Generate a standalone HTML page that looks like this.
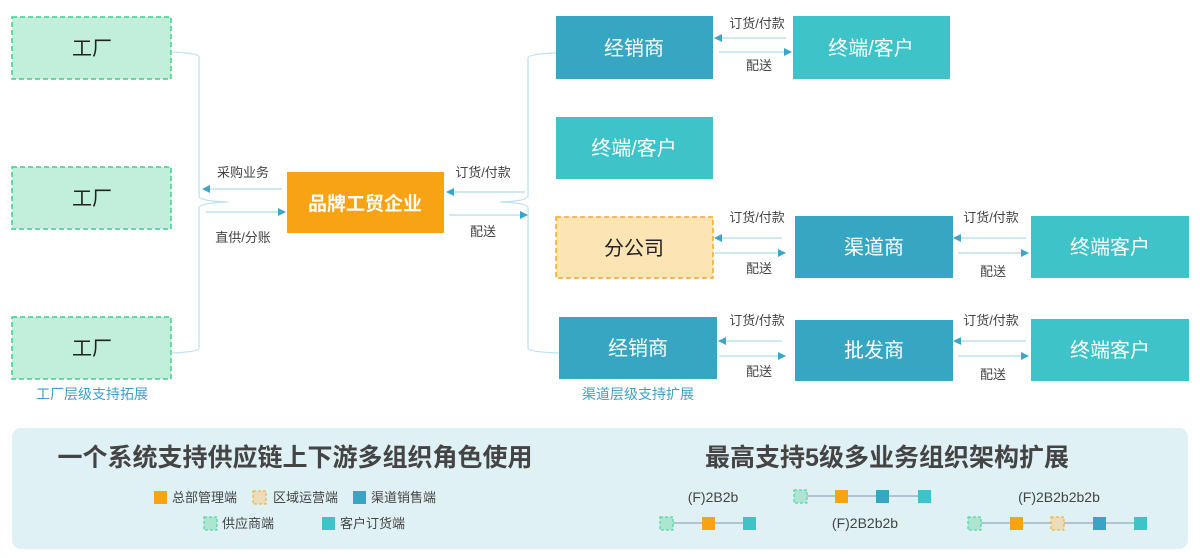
<!DOCTYPE html>
<html><head><meta charset="utf-8"><style>
html,body{margin:0;padding:0;background:#fff;}
svg{display:block;font-family:"Liberation Sans","Noto Sans CJK SC",sans-serif;}
</style></head><body>
<svg width="1200" height="558" viewBox="0 0 1200 558" xmlns="http://www.w3.org/2000/svg">
<defs>
<marker id="ah" markerWidth="8" markerHeight="8" refX="7" refY="4" orient="auto" markerUnits="userSpaceOnUse">
<path d="M0,0 L8,4 L0,8 Z" fill="#3aa6c8"/></marker>
</defs>
<!-- factories -->
<g fill="#c2efdb" stroke="#3ccf8e" stroke-width="1.5" stroke-dasharray="5,3">
<rect x="12" y="17" width="159" height="62"/>
<rect x="12" y="167" width="159" height="62"/>
<rect x="12" y="317" width="159" height="62"/>
</g>
<g font-size="20" fill="#222" text-anchor="middle">
<text x="92" y="55">工厂</text><text x="92" y="205">工厂</text><text x="92" y="355">工厂</text>
</g>
<text x="92" y="399" font-size="14" fill="#3ea0c8" text-anchor="middle">工厂层级支持拓展</text>
<!-- left brace -->
<g fill="none" stroke="#bfe2ee" stroke-width="1.3">
<path d="M171,52 Q199,53 199,57 L199,196 Q199,201 228,202 Q199,203 199,208 L199,348 Q199,352 171,353"/>
<path d="M556,53 Q528,54 528,58 L528,196 Q528,201 500,202 Q528,203 528,208 L528,348 Q528,352 559,353"/>
</g>
<!-- brand -->
<rect x="287" y="172" width="157" height="61" fill="#f7a313"/>
<text x="365" y="210" font-size="19" font-weight="bold" fill="#fff" text-anchor="middle">品牌工贸企业</text>
<!-- arrows -->
<g stroke="#bfe2ee" stroke-width="1.5" marker-end="url(#ah)">
<line x1="282" y1="189" x2="203" y2="189"/>
<line x1="206" y1="212" x2="285" y2="212"/>
<line x1="525" y1="192" x2="447" y2="192"/>
<line x1="449" y1="215" x2="527" y2="215"/>
<line x1="786" y1="38" x2="715" y2="38"/>
<line x1="719" y1="52" x2="791" y2="52"/>
<line x1="782" y1="238" x2="715" y2="238"/>
<line x1="715" y1="253" x2="785" y2="253"/>
<line x1="1026" y1="238" x2="954" y2="238"/>
<line x1="958" y1="253" x2="1028" y2="253"/>
<line x1="782" y1="341" x2="719" y2="341"/>
<line x1="719" y1="356" x2="785" y2="356"/>
<line x1="1026" y1="341" x2="954" y2="341"/>
<line x1="958" y1="356" x2="1028" y2="356"/>
</g>
<g font-size="13" fill="#444" text-anchor="middle">
<text x="243" y="177">采购业务</text><text x="243" y="242">直供/分账</text>
<text x="483" y="177">订货/付款</text><text x="483" y="236">配送</text>
<text x="757" y="28">订货/付款</text><text x="759" y="70">配送</text>
<text x="757" y="222">订货/付款</text><text x="759" y="273">配送</text>
<text x="991" y="222">订货/付款</text><text x="993" y="276">配送</text>
<text x="757" y="325">订货/付款</text><text x="759" y="376">配送</text>
<text x="991" y="325">订货/付款</text><text x="993" y="379">配送</text>
</g>
<!-- right boxes -->
<g fill="#36a6c2">
<rect x="556" y="16" width="157" height="63"/>
<rect x="795" y="216" width="158" height="62"/>
<rect x="559" y="317" width="158" height="62"/>
<rect x="795" y="320" width="158" height="61"/>
</g>
<g fill="#3dc3c8">
<rect x="793" y="16" width="157" height="63"/>
<rect x="556" y="117" width="157" height="62"/>
<rect x="1031" y="216" width="158" height="62"/>
<rect x="1031" y="319" width="158" height="62"/>
</g>
<rect x="556" y="217" width="157" height="61" fill="#fde4b5" stroke="#f5a623" stroke-width="1.5" stroke-dasharray="5,3"/>
<g font-size="20" fill="#fff" text-anchor="middle">
<text x="634" y="55">经销商</text><text x="871" y="55">终端/客户</text>
<text x="634" y="155">终端/客户</text>
<text x="874" y="254">渠道商</text><text x="1110" y="254">终端客户</text>
<text x="638" y="355">经销商</text><text x="874" y="357">批发商</text><text x="1110" y="357">终端客户</text>
</g>
<text x="634" y="255" font-size="20" fill="#222" text-anchor="middle">分公司</text>
<text x="638" y="399" font-size="14" fill="#3ea0c8" text-anchor="middle">渠道层级支持扩展</text>
<!-- bottom panel -->
<rect x="12" y="428" width="1176" height="121" rx="9" fill="#e0f1f6"/>
<g font-size="25" font-weight="bold" fill="#444" text-anchor="middle">
<text x="295" y="466">一个系统支持供应链上下游多组织角色使用</text>
<text x="887" y="466">最高支持5级多业务组织架构扩展</text>
</g>
<g font-size="13" fill="#444">
<rect x="154" y="491" width="13" height="13" fill="#f7a313"/><text x="172" y="502">总部管理端</text>
<rect x="253" y="491" width="13" height="13" fill="#ecdcb8" stroke="#f5a623" stroke-dasharray="3,2"/><text x="273" y="502">区域运营端</text>
<rect x="353" y="491" width="13" height="13" fill="#36a6c2"/><text x="371" y="502">渠道销售端</text>
<rect x="204" y="517" width="13" height="13" fill="#ace6d3" stroke="#3ccf8e" stroke-dasharray="3,2"/><text x="222" y="528">供应商端</text>
<rect x="322" y="517" width="13" height="13" fill="#3dc3c8"/><text x="340" y="528">客户订货端</text>
</g>
<g font-size="14" fill="#444" text-anchor="middle">
<text x="713" y="502">(F)2B2b</text>
<text x="865" y="528">(F)2B2b2b</text>
<text x="1059" y="502">(F)2B2b2b2b</text>
</g>
<g stroke="#9fb6c4" stroke-width="1.5">
<line x1="666" y1="523" x2="750" y2="523"/>
<line x1="800" y1="496" x2="924" y2="496"/>
<line x1="974" y1="523" x2="1140" y2="523"/>
</g>
<g>
<rect x="660" y="517" width="13" height="13" fill="#ace6d3" stroke="#3ccf8e" stroke-dasharray="3,2"/>
<rect x="702" y="517" width="13" height="13" fill="#f7a313"/>
<rect x="743" y="517" width="13" height="13" fill="#3dc3c8"/>
<rect x="794" y="490" width="13" height="13" fill="#ace6d3" stroke="#3ccf8e" stroke-dasharray="3,2"/>
<rect x="835" y="490" width="13" height="13" fill="#f7a313"/>
<rect x="876" y="490" width="13" height="13" fill="#36a6c2"/>
<rect x="918" y="490" width="13" height="13" fill="#3dc3c8"/>
<rect x="968" y="517" width="13" height="13" fill="#ace6d3" stroke="#3ccf8e" stroke-dasharray="3,2"/>
<rect x="1010" y="517" width="13" height="13" fill="#f7a313"/>
<rect x="1051" y="517" width="13" height="13" fill="#ecdcb8" stroke="#f5a623" stroke-dasharray="3,2"/>
<rect x="1093" y="517" width="13" height="13" fill="#36a6c2"/>
<rect x="1134" y="517" width="13" height="13" fill="#3dc3c8"/>
</g>
</svg>
</body></html>
